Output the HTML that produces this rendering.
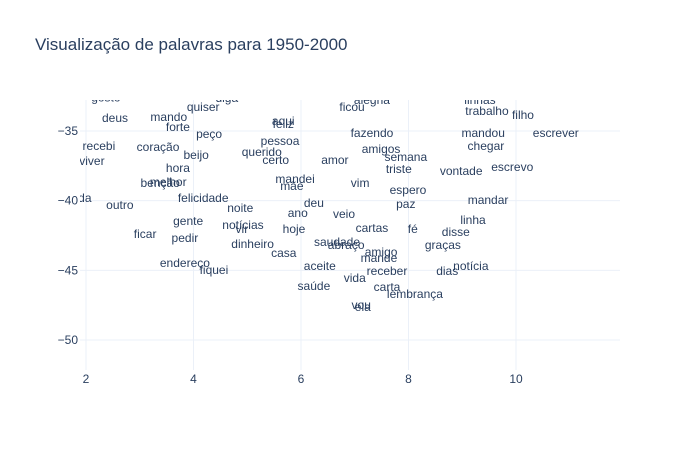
<!DOCTYPE html>
<html><head><meta charset="utf-8"><style>
html,body{margin:0;padding:0;background:#fff;}
svg{display:block;font-family:"Liberation Sans",Arial,sans-serif;}
</style></head><body>
<svg id="chart" width="700" height="450">
<rect width="700" height="450" fill="#fff"/>
<text x="35" y="50" font-size="17" fill="#2a3f5f">Visualização de palavras para 1950-2000</text>
<defs><clipPath id="pc"><rect x="80" y="100" width="540" height="270"/></clipPath></defs>
<g id="grid"></g><g id="ticks"></g><g id="words" clip-path="url(#pc)"></g>
</svg>
<script>
const words=["gosto","deus","mando","quiser","diga","forte","peço","feliz","aqui","recebi","coração","beijo","pessoa","querido","certo","viver","hora","melhor","benção","mandei","mãe","felicidade","ajuda","outro","noite","deu","ano","veio","gente","notícias","vir","hoje","ficar","pedir","dinheiro","casa","saudade","abraço","amigo","mande","cartas","fé","disse","linha","graças","endereço","fiquei","aceite","receber","dias","notícia","vida","saúde","carta","lembrança","vou","ela","ficou","alegria","linhas","trabalho","filho","fazendo","mandou","escrever","amigos","chegar","amor","semana","triste","vontade","escrevo","vim","espero","paz","mandar"];
const xVals=[2.37,2.54,3.54,4.18,4.62,3.71,4.29,5.67,5.67,2.24,3.34,4.05,5.61,5.27,5.53,2.11,3.71,3.53,3.38,5.89,5.83,4.18,1.83,2.63,4.87,6.24,5.94,6.8,3.9,4.92,4.9,5.87,3.1,3.84,5.1,5.68,6.67,6.84,7.49,7.45,7.32,8.08,8.88,9.2,8.64,3.84,4.38,6.35,7.6,8.72,9.16,7.0,6.24,7.6,8.12,7.12,7.15,6.95,7.32,9.33,9.46,10.13,7.32,9.39,10.74,7.49,9.44,6.63,7.95,7.82,8.98,9.93,7.1,7.99,7.95,9.48];
const yVals=[-32.6,-34.07,-34.0,-33.28,-32.63,-34.71,-35.22,-34.5,-34.28,-36.08,-36.15,-36.72,-35.72,-36.5,-37.08,-37.15,-37.65,-38.66,-38.73,-38.44,-38.95,-39.81,-39.81,-40.31,-40.52,-40.16,-40.88,-40.95,-41.46,-41.74,-42.03,-42.03,-42.39,-42.68,-43.1,-43.75,-42.96,-43.18,-43.68,-44.11,-41.96,-42.03,-42.25,-41.39,-43.18,-44.47,-44.97,-44.68,-45.04,-45.04,-44.68,-45.55,-46.12,-46.19,-46.69,-47.48,-47.63,-33.28,-32.78,-32.78,-33.57,-33.85,-35.14,-35.14,-35.14,-36.29,-36.08,-37.08,-36.87,-37.73,-37.87,-37.58,-38.73,-39.23,-40.24,-39.95];
const xTicks=[2,4,6,8,10];
const yTicks=[-35,-40,-45,-50];
const NS="http://www.w3.org/2000/svg";
const xS=v=>86+(v-2)*53.75;
const yS=v=>131-(v+35)*13.933;
function mk(t,a,p){const e=document.createElementNS(NS,t);for(const k in a)e.setAttribute(k,a[k]);p.appendChild(e);return e;}
const grid=document.getElementById('grid'),ticks=document.getElementById('ticks'),wg=document.getElementById('words');
xTicks.forEach(t=>{
  const l=mk('line',{x1:xS(t),x2:xS(t),y1:100,y2:370,stroke:'#ebf0f8','stroke-width':1},grid);
  
  
  const tx=mk('text',{x:xS(t),y:383,'font-size':12,fill:'#2a3f5f','text-anchor':'middle'},ticks);
  tx.textContent=t;
  
  
});
yTicks.forEach(t=>{
  const l=mk('line',{x1:80,x2:620,y1:yS(t),y2:yS(t),stroke:'#ebf0f8','stroke-width':1},grid);
  
  
  const tx=mk('text',{x:78,y:yS(t)+4,'font-size':12,fill:'#2a3f5f','text-anchor':'end'},ticks);
  tx.textContent='\u2212'+Math.abs(t);
  
  
});
words.forEach((w,i)=>{
  const tx=mk('text',{x:xS(xVals[i]),y:yS(yVals[i])+4,'font-size':12,fill:'#2a3f5f','text-anchor':'middle'},wg);
  tx.textContent=w;
  
  
});
</script>
</body></html>
